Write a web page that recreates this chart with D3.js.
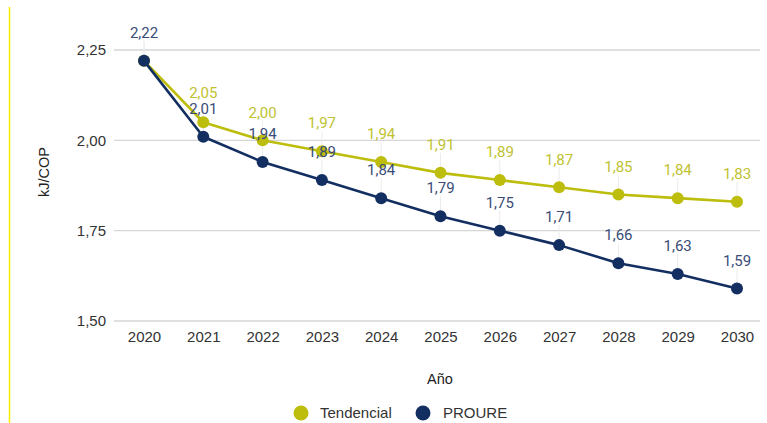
<!DOCTYPE html>
<html>
<head>
<meta charset="utf-8">
<script src="https://cdn.jsdelivr.net/npm/d3@7"></script>
<style>
  html, body { margin: 0; padding: 0; background: #fff; }
  svg { display: block; font-family: "Liberation Sans", Arial, sans-serif; }
</style>
</head>
<body>
<svg id="chart" width="767" height="423"></svg>
<script>
// Energy intensity (kJ/COP), 2020–2030
const years = [2020, 2021, 2022, 2023, 2024, 2025, 2026, 2027, 2028, 2029, 2030];
const tendencial = [2.22, 2.05, 2.00, 1.97, 1.94, 1.91, 1.89, 1.87, 1.85, 1.84, 1.83];
const proure = [2.22, 2.01, 1.94, 1.89, 1.84, 1.79, 1.75, 1.71, 1.66, 1.63, 1.59];
const yTicks = [1.50, 1.75, 2.00, 2.25];
const seriesNames = ["Tendencial", "PROURE"];

const colors = { Tendencial: "#bcbd0c", PROURE: "#132f61" };
const labelColors = { Tendencial: "#c0c232", PROURE: "#3a4d77" };
const sans = "'Liberation Sans', Arial, sans-serif";
const labelFont = "Roboto, 'Noto Sans', sans-serif";

const svg = d3.select("#chart");
const fmt = v => d3.format(".2f")(v).replace(".", ",");

const x = d3.scalePoint().domain(years).range([144, 737]);
const y = d3.scaleLinear().domain([1.5, 2.25]).range([321, 50]);

// left accent rule
svg.append("line")
  .attr("x1", 9.5).attr("x2", 9.5).attr("y1", 7).attr("y2", 423)
  .attr("stroke", "#f7ee00").attr("stroke-width", 1.5);

// horizontal gridlines
svg.append("g").selectAll("line").data(yTicks).join("line")
  .attr("x1", 114).attr("x2", 760)
  .attr("y1", d => y(d)).attr("y2", d => y(d))
  .attr("stroke", "#d6d6d6").attr("stroke-width", 1.3);

// y axis tick labels
svg.append("g").selectAll("text").data(yTicks).join("text")
  .attr("x", 106).attr("y", d => y(d)).attr("dy", "0.35em")
  .attr("text-anchor", "end").attr("font-size", 15).attr("fill", "#333")
  .attr("font-family", sans)
  .text(fmt);

// x axis tick labels
const xAxis = d3.axisBottom(x).tickSize(0).tickPadding(0);
const gx = svg.append("g").attr("transform", "translate(0,331)").call(xAxis);
gx.select(".domain").remove();
gx.selectAll("text").attr("font-size", 15).attr("fill", "#333")
  .attr("font-family", sans);

// axis titles
svg.append("text").attr("x", 440).attr("y", 384).attr("text-anchor", "middle")
  .attr("font-size", 14.5).attr("fill", "#222").attr("font-family", sans).text("Año");
svg.append("text")
  .attr("transform", "translate(49,172) rotate(-90)")
  .attr("text-anchor", "middle").attr("font-size", 14.5).attr("fill", "#222")
  .attr("font-family", sans)
  .text("kJ/COP");

const series = [
  { name: "Tendencial", values: tendencial },
  { name: "PROURE", values: proure }
];

// faint leader lines from labels to points
series.forEach(s => {
  svg.append("g").selectAll("line").data(s.values.map((v, i) => ({ v, yr: years[i] })))
    .join("line")
    .attr("x1", d => x(d.yr)).attr("x2", d => x(d.yr))
    .attr("y1", d => y(d.v) - 20).attr("y2", d => y(d.v))
    .attr("stroke", "#ececec").attr("stroke-width", 1);
});

const line = d3.line().x((d, i) => x(years[i])).y(d => y(d));

series.forEach(s => {
  svg.append("path").datum(s.values)
    .attr("fill", "none").attr("stroke", colors[s.name])
    .attr("stroke-width", 2.6).attr("stroke-linejoin", "round")
    .attr("d", line);
  svg.append("g").selectAll("circle").data(s.values).join("circle")
    .attr("cx", (d, i) => x(years[i])).attr("cy", d => y(d)).attr("r", 6)
    .attr("fill", colors[s.name]);
});

// value labels (a shared starting value is labelled once, by PROURE)
series.forEach(s => {
  const pts = s.values.map((v, i) => ({ v, yr: years[i], i }))
    .filter(d => !(s.name === "Tendencial" && d.v === proure[d.i]));
  svg.append("g").selectAll("text").data(pts).join("text")
    .attr("x", d => x(d.yr))
    .attr("y", d => y(d.v) - (s.name === "Tendencial" && d.i === 1 ? 30 : 28))
    .attr("dy", "0.35em")
    .attr("text-anchor", "middle").attr("font-size", 15)
    .attr("font-family", labelFont)
    .attr("fill", labelColors[s.name])
    .text(d => fmt(d.v));
});

// legend
const legend = [
  { name: "Tendencial", cx: 301, tx: 320 },
  { name: "PROURE", cx: 423, tx: 443 }
];
const lg = svg.append("g");
lg.selectAll("circle").data(legend).join("circle")
  .attr("cx", d => d.cx).attr("cy", 413).attr("r", 7.5)
  .attr("fill", d => colors[d.name]);
lg.selectAll("text").data(legend).join("text")
  .attr("x", d => d.tx).attr("y", 413).attr("dy", "0.35em")
  .attr("font-size", 15).attr("fill", "#333").attr("font-family", sans)
  .text(d => d.name);
</script>
</body>
</html>
